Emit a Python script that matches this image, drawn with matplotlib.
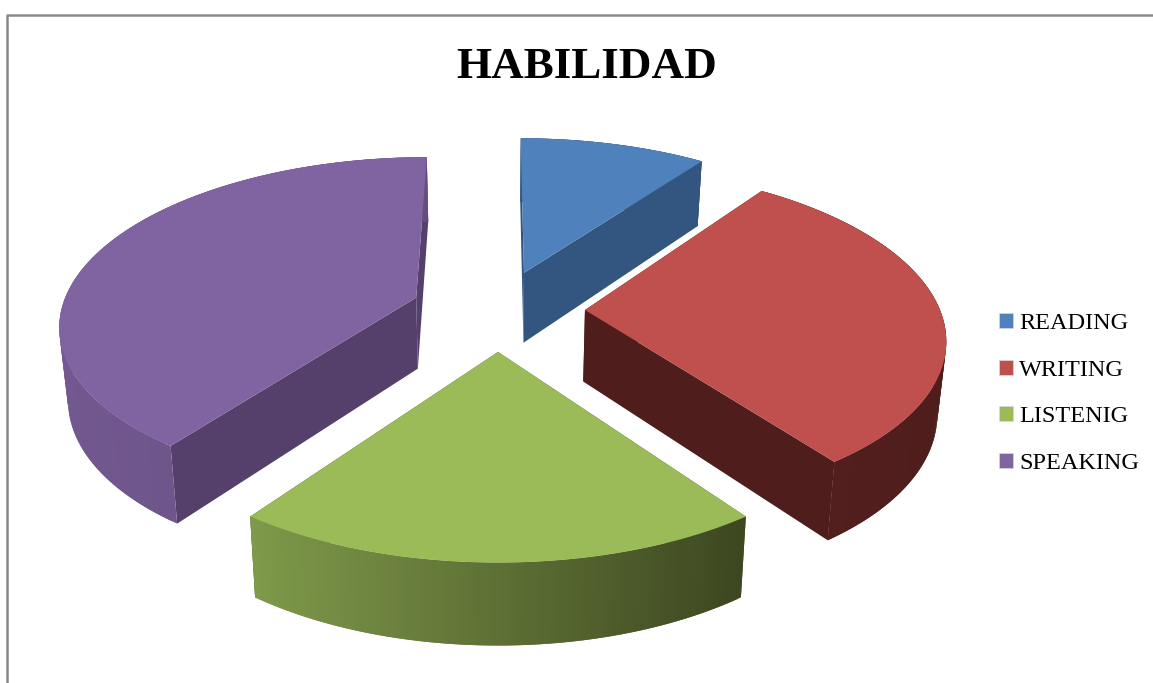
# -*- coding: utf-8 -*-
"""Exploded 3D pie "HABILIDAD", built by hand from matplotlib polygons."""
import numpy as np
import matplotlib
matplotlib.use("Agg")
import matplotlib.pyplot as plt
from matplotlib.collections import PolyCollection
from matplotlib.lines import Line2D
from matplotlib.patches import Patch, Polygon

# data
categories = ["READING", "WRITING", "LISTENIG", "SPEAKING"]
shares = [10, 30, 20, 40]

# colours: top, radial walls, outer wall left/right end
top_colors = ["#4f81bd", "#c0504d", "#9bbb59", "#8064a2"]
wall_colors = ["#32567f", "#4f1d1c", "#3f4a20", "#54406b"]
arc_left = ["#32567f", "#54201f", "#7f9a4a", "#72588f"]
arc_right = ["#32567f", "#4f1d1c", "#3d4720", "#644e80"]

# projection settings, in pixels
_W, _H = 1153, 683
_CX, _CY = 498, 310
_RX, _RY = 355, 165
_PERSP = 0.15
_DEPTH = 73
_BOTTOM_SCALE = 0.98
_EXPLODE = 0.245


def project(x, y, bottom=False):
    """Plane coordinates (unit radius, y towards viewer) to pixels."""
    s = 1.0 / (1.0 - _PERSP * y)
    if bottom:
        s = s * _BOTTOM_SCALE
        return _CX + _RX * x * s, _CY + (_RY * y + _DEPTH) * s
    return _CX + _RX * x * s, _CY + _RY * y * s


def mix(c1, c2, t):
    a = np.array(matplotlib.colors.to_rgb(c1))
    b = np.array(matplotlib.colors.to_rgb(c2))
    return tuple(a + (b - a) * t)


fig = plt.figure(figsize=(_W / 100, _H / 100), dpi=100)
ax = fig.add_axes([0, 0, 1, 1])
ax.set_xlim(0, _W)
ax.set_ylim(_H, 0)
ax.axis("off")

# slice angles, clockwise from 12 o'clock
edges = np.cumsum([0] + shares) / sum(shares) * 2 * np.pi

# back slices first, the listening one goes last
for i in [0, 3, 1, 2]:
    a0, a1 = edges[i], edges[i + 1]
    mid = (a0 + a1) / 2
    ox, oy = _EXPLODE * np.sin(mid), -_EXPLODE * np.cos(mid)
    ang = np.linspace(a0, a1, 120)
    xs = np.r_[ox, ox + np.sin(ang)]
    ys = np.r_[oy, oy - np.cos(ang)]

    tx, ty = project(xs, ys)
    bx, by = project(xs, ys, bottom=True)

    # radial walls
    for j in (1, -1):
        ax.add_patch(Polygon([(tx[0], ty[0]), (tx[j], ty[j]), (bx[j], by[j]), (bx[0], by[0])],
                             closed=True, fc=wall_colors[i], ec="none"))

    # outer wall, overlapping quads so no seams show in the gradient
    quads, cols = [], []
    lo, hi = tx[1:].min(), tx[1:].max()
    n = len(xs)
    for k in range(1, n - 1):
        e = min(k + 2, n - 1)
        quads.append([(tx[k], ty[k]), (tx[e], ty[e]), (bx[e], by[e]), (bx[k], by[k])])
        cols.append(mix(arc_left[i], arc_right[i], (tx[k] - lo) / (hi - lo)))
    ax.add_collection(PolyCollection(quads, facecolors=cols, edgecolors="none"))

    # top face
    ax.add_patch(Polygon(np.c_[tx, ty], closed=True, fc=top_colors[i], ec="none"))

# outer frame of the chart
fig.add_artist(Line2D([7 / _W, 7 / _W, 1], [0, 1 - 14.5 / _H, 1 - 14.5 / _H], color="#8a8a8a", lw=1.8))

ax.text(587, 67, "HABILIDAD", ha="center", va="center", fontsize=32.5, fontweight="bold",
        family="Liberation Serif", color="black")

handles = [Patch(fc=c, ec="#d8d8d8", lw=0.5, label=n) for c, n in zip(top_colors, categories)]
leg = ax.legend(handles=handles, loc="center left", bbox_to_anchor=(999 / _W, 1 - 393.5 / _H),
                frameon=False, prop={"family": "Liberation Serif", "size": 17.5}, handlelength=0.58,
                handleheight=0.58, handletextpad=0.24, labelspacing=1.05, borderpad=0, borderaxespad=0)

fig.savefig("out.png", dpi=100)
